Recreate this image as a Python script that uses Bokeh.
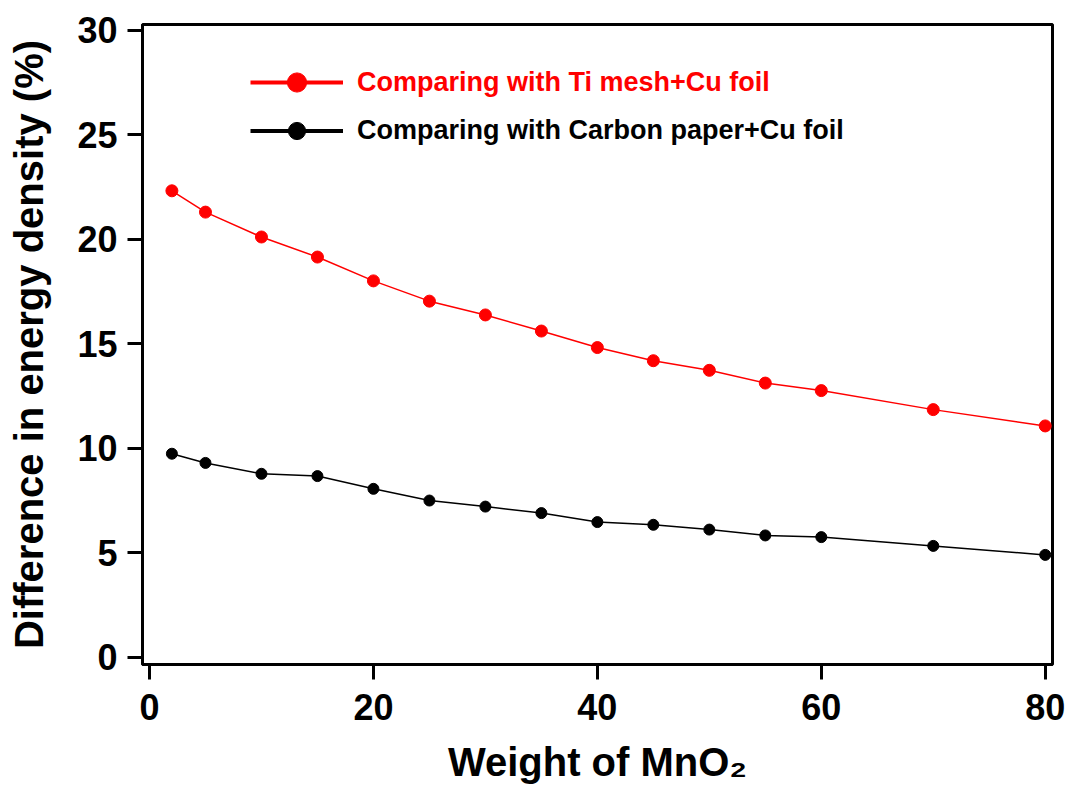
from bokeh.plotting import figure
from bokeh.models import Range1d, Legend, LegendItem
from bokeh.embed import file_html
from bokeh.resources import INLINE

# Data
weight = [2, 5, 10, 15, 20, 25, 30, 35, 40, 45, 50, 55, 60, 70, 80]
ti_mesh = [22.33, 21.31, 20.12, 19.16, 18.02, 17.05, 16.39, 15.62, 14.83, 14.20, 13.74, 13.13, 12.77, 11.86, 11.08]
carbon_paper = [9.75, 9.31, 8.79, 8.68, 8.07, 7.51, 7.22, 6.91, 6.48, 6.35, 6.12, 5.84, 5.76, 5.34, 4.91]
x_ticks = [0, 20, 40, 60, 80]
y_ticks = [0, 5, 10, 15, 20, 25, 30]
label_ti = "Comparing with Ti mesh+Cu foil"
label_cp = "Comparing with Carbon paper+Cu foil"
x_title = "Weight of MnO\u2082"
y_title = "Difference in energy density (%)"

FONT = "Liberation Sans"
NAN = float("nan")

p = figure(width=1070, height=787, output_backend="svg", toolbar_location=None,
           x_range=Range1d(-0.625, 80.65), y_range=Range1d(-0.335, 30.287),
           min_border_left=142, min_border_right=18, min_border_top=24, min_border_bottom=123)

p.background_fill_color = "white"
p.border_fill_color = "white"
p.grid.visible = False
p.outline_line_color = "black"
p.outline_line_width = 3
p.outline_line_alpha = 1

for ax in (p.xaxis[0], p.yaxis[0]):
    ax.axis_line_color = "black"
    ax.axis_line_width = 3
    ax.major_tick_line_color = "black"
    ax.major_tick_line_width = 3
    ax.major_tick_in = 0
    ax.major_tick_out = 15
    ax.minor_tick_line_color = None
    ax.major_label_text_font = FONT
    ax.major_label_text_font_style = "bold"
    ax.major_label_text_font_size = "36px"
    ax.major_label_text_color = "black"
    ax.major_label_text_line_height = 1.0
    ax.axis_label_text_font = FONT
    ax.axis_label_text_font_style = "bold"
    ax.axis_label_text_font_size = "40px"
    ax.axis_label_text_color = "black"
    ax.axis_label_text_line_height = 1.0

p.xaxis.ticker = x_ticks
p.yaxis.ticker = y_ticks
p.xaxis.major_label_standoff = 14
p.yaxis.major_label_standoff = 10
p.xaxis.axis_label = x_title
p.xaxis.axis_label_standoff = 17
p.yaxis.axis_label = y_title
p.yaxis.axis_label_standoff = 23

# Series
p.line(weight, ti_mesh, line_color="red", line_width=1.5)
p.scatter(weight, ti_mesh, size=12, fill_color="red", line_color="red")
p.line(weight, carbon_paper, line_color="black", line_width=1.5)
p.scatter(weight, carbon_paper, size=11, fill_color="black", line_color="black")

# Legend samples (non-drawing renderers, styled like the reference legend)
lr1 = p.line([NAN], [NAN], line_color="red", line_width=4)
sr1 = p.scatter([NAN], [NAN], size=19, fill_color="red", line_color="red")
lr2 = p.line([NAN], [NAN], line_color="black", line_width=4)
sr2 = p.scatter([NAN], [NAN], size=18, fill_color="black", line_color="black")

def make_legend(item, color, loc, gh):
    lg = Legend(items=[item], location=loc, orientation="vertical",
                padding=0, margin=0, spacing=0,
                glyph_width=93, glyph_height=gh, label_height=gh, label_standoff=14,
                label_text_font=FONT, label_text_font_style="bold",
                label_text_font_size="27px", label_text_color=color,
                border_line_alpha=0, background_fill_alpha=0)
    return lg

leg1 = make_legend(LegendItem(label=label_ti, renderers=[lr1, sr1]), "red", (108, 558), 48)
leg2 = make_legend(LegendItem(label=label_cp, renderers=[lr2, sr2]), "black", (108, 512), 43)
p.add_layout(leg1, "center")
p.add_layout(leg2, "center")

open("out.html", "w").write(file_html(p, INLINE))
